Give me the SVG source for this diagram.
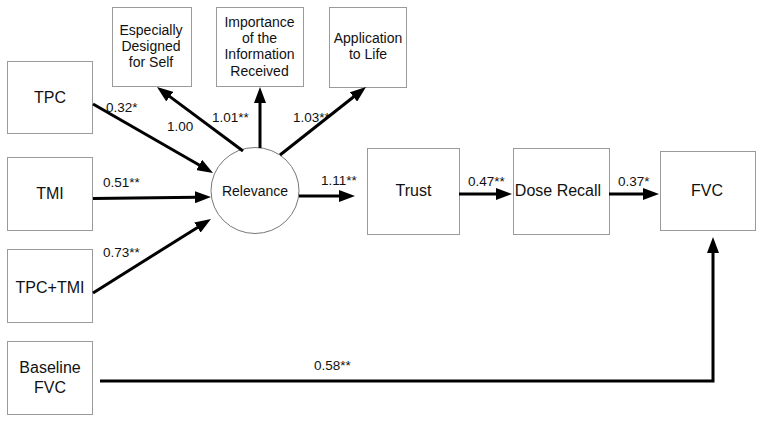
<svg xmlns="http://www.w3.org/2000/svg" width="762" height="422" viewBox="0 0 762 422">
<style>
.box{fill:#fff;stroke:#9a9a9a;stroke-width:1}
.t{font-family:"Liberation Sans",Arial,sans-serif;fill:#111;text-anchor:middle}
.big{font-size:16px}
.sm{font-size:14px}
.lbl{font-family:"Liberation Sans",Arial,sans-serif;font-size:13.5px;fill:#111}
.ar{fill:none;stroke:#000;stroke-width:3;marker-end:url(#ah)}
</style>
<defs>
<marker id="ah" viewBox="0 0 16 12" markerWidth="16" markerHeight="12" refX="2" refY="6" orient="auto" markerUnits="userSpaceOnUse">
<path d="M0,0 L16,6 L0,12 z" fill="#000"/>
</marker>
</defs>
<rect width="762" height="422" fill="#fff"/>
<g id="tpc"><rect class="box" x="7.5" y="61.5" width="85" height="72"/><text class="t big" x="50" y="103">TPC</text></g>
<g id="tmi"><rect class="box" x="7.5" y="157.5" width="85" height="73"/><text class="t big" x="50" y="199">TMI</text></g>
<g id="tpctmi"><rect class="box" x="7.5" y="249.5" width="85" height="73"/><text class="t big" x="50" y="293">TPC+TMI</text></g>
<g id="baseline"><rect class="box" x="7.5" y="341.5" width="85" height="73"/><text class="t big" x="50" y="373">Baseline</text><text class="t big" x="50" y="393">FVC</text></g>
<g id="especially"><rect class="box" x="112.5" y="7.5" width="79" height="79"/><text class="t sm" x="151" y="35">Especially</text><text class="t sm" x="151" y="51">Designed</text><text class="t sm" x="151" y="67">for Self</text></g>
<g id="importance"><rect class="box" x="216.5" y="7.5" width="87" height="79"/><text class="t sm" x="259.5" y="27">Importance</text><text class="t sm" x="259.5" y="43">of the</text><text class="t sm" x="259.5" y="59">Information</text><text class="t sm" x="259.5" y="76">Received</text></g>
<g id="application"><rect class="box" x="329.5" y="7.5" width="77" height="80"/><text class="t sm" x="368" y="43">Application</text><text class="t sm" x="368" y="59">to Life</text></g>
<g id="relevance"><ellipse cx="255" cy="190.5" rx="44" ry="43" fill="#fff" stroke="#777" stroke-width="1"/><text class="t sm" x="255" y="196">Relevance</text></g>
<g id="trust"><rect class="box" x="367.5" y="148.5" width="92" height="86"/><text class="t big" x="413.5" y="196">Trust</text></g>
<g id="dose"><rect class="box" x="513.5" y="148.5" width="96" height="86"/><text class="t big" x="558" y="196">Dose Recall</text></g>
<g id="fvc"><rect class="box" x="660.5" y="151.5" width="95" height="79"/><text class="t big" x="707" y="196">FVC</text></g>
<g id="connectors">
<path class="ar" d="M93,104 L200.9,166"/>
<path class="ar" d="M93,198.5 L197,197.2"/>
<path class="ar" d="M93,293 L199.1,226.4"/>
<path class="ar" d="M243,151 L168.2,95.4"/>
<path class="ar" d="M260,148 L260,101"/>
<path class="ar" d="M280,155 L355,95.7"/>
<path class="ar" d="M299,196 L341,196"/>
<path class="ar" d="M459,194 L498,194"/>
<path class="ar" d="M609,194 L645,194"/>
<path class="ar" d="M100,381 L713,381 L713,251"/>
<text class="lbl" x="106" y="112">0.32*</text>
<text class="lbl" x="167" y="131">1.00</text>
<text class="lbl" x="212" y="122">1.01**</text>
<text class="lbl" x="293" y="122">1.03**</text>
<text class="lbl" x="103" y="187">0.51**</text>
<text class="lbl" x="103" y="257">0.73**</text>
<text class="lbl" x="321" y="185">1.11**</text>
<text class="lbl" x="468" y="186">0.47**</text>
<text class="lbl" x="618" y="186">0.37*</text>
<text class="lbl" x="314" y="370">0.58**</text>
</g>
</svg>
